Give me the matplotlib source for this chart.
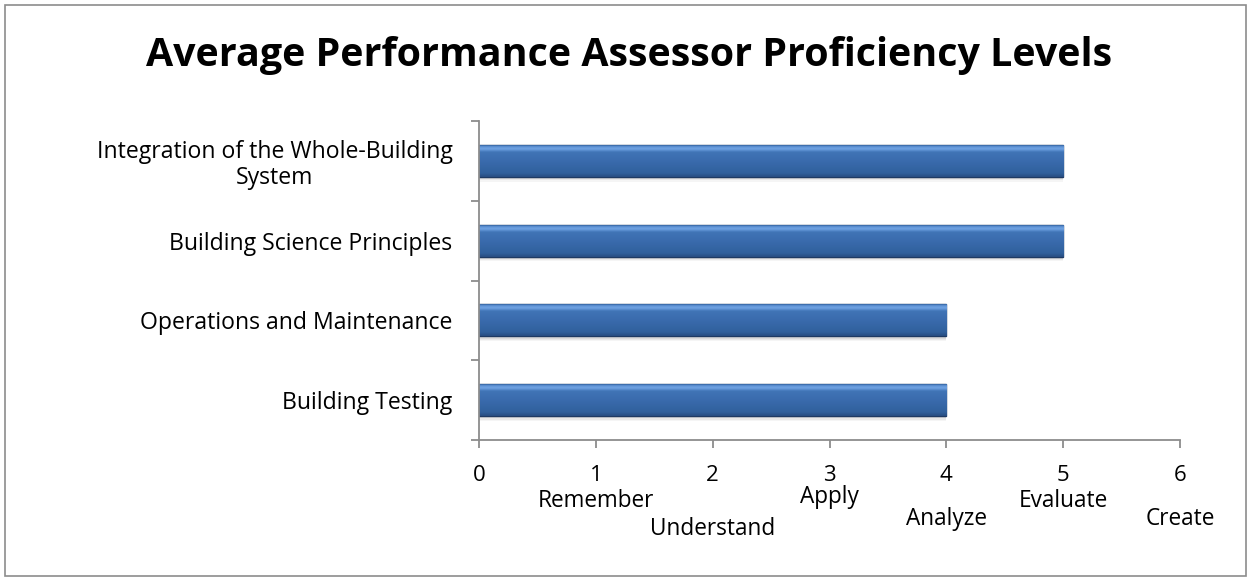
import numpy as np
import matplotlib
matplotlib.use("Agg")
import matplotlib.pyplot as plt
from matplotlib.colors import LinearSegmentedColormap
from matplotlib.patches import Rectangle

# ---- data ----
categories = ["Integration of the Whole-Building\nSystem",
              "Building Science Principles",
              "Operations and Maintenance",
              "Building Testing"]
values = [5, 5, 4, 4]
x_ticks = [0, 1, 2, 3, 4, 5, 6]
level_names = ["", "Remember", "Understand", "Apply", "Analyze", "Evaluate", "Create"]
level_baseline_px = [0, 67, 95, 63, 85, 67, 85]  # baseline distance below axis
title = "Average Performance Assessor Proficiency Levels"

FONT = ["Open Sans", "DejaVu Sans"]
plt.rcParams['font.family'] = FONT

fig = plt.figure(figsize=(12.5, 5.79), dpi=100)
ax = fig.add_axes([479/1250, 1-440/579, (1180-479)/1250, (440-121)/579])

n = len(categories)
ypos = np.arange(n)[::-1].astype(float)
bh = 0.4

# shadow
for k, a in enumerate([0.06, 0.05, 0.04]):
    ax.barh(ypos - 0.03 - 0.015*k, values, height=bh, left=0.0,
            color="black", alpha=a, linewidth=0, zorder=1)

bars = ax.barh(ypos, values, height=bh, color="#3A69A9",
               edgecolor="#1E3A63", linewidth=1.0, zorder=2)

cmap = LinearSegmentedColormap.from_list(
    "bev", [(0.0, "#274C80"), (0.12, "#30609C"), (0.5, "#3A6BAD"),
            (0.78, "#4074B6"), (0.88, "#70A3E3"), (0.95, "#5F93D6"), (1.0, "#30609C")])
grad = np.linspace(0, 1, 256).reshape(-1, 1)
for b in bars:
    x0, y0 = b.get_x(), b.get_y()
    w, h = b.get_width(), b.get_height()
    im = ax.imshow(grad, extent=[x0, x0 + w, y0, y0 + h], origin="lower",
                   aspect="auto", cmap=cmap, zorder=2.5, interpolation="bilinear")
    im.set_clip_path(b)

ax.set_xlim(0, 6)
ax.set_ylim(-0.5, n - 0.5)

ax.set_yticks(ypos)
ax.set_yticklabels(categories, fontsize=16.6, multialignment="center", linespacing=1.12)
ax.set_yticks(np.arange(-0.5, n, 1.0), minor=True)
ax.tick_params(axis="y", which="major", length=0, pad=19)
ax.tick_params(axis="y", which="minor", length=6, width=1.3, color="#8C8C8C")

ax.set_xticks(x_ticks)
ax.set_xticklabels([str(t) for t in x_ticks], fontsize=16)
ax.tick_params(axis="x", which="major", length=6, width=1.3, color="#8C8C8C", pad=12)

for s in ["top", "right"]:
    ax.spines[s].set_visible(False)
for s in ["left", "bottom"]:
    ax.spines[s].set_color("#8C8C8C")
    ax.spines[s].set_linewidth(1.3)

for t, name, off in zip(x_ticks, level_names, level_baseline_px):
    if name:
        ax.annotate(name, xy=(t, 0), xycoords=("data", "axes fraction"),
                    xytext=(0, -off * 0.72), textcoords="offset points",
                    ha="center", va="baseline", fontsize=16.3)

fig.text(0.5036, 1 - 66/579, title, ha="center", va="baseline",
         fontsize=28.4, fontweight="bold")

fig.patches.append(Rectangle((5/1250, 3/579), 1241/1250, 571/579,
                             transform=fig.transFigure, fill=False,
                             edgecolor="#8C8C8C", linewidth=1.2))

fig.savefig("out.png", dpi=100)
